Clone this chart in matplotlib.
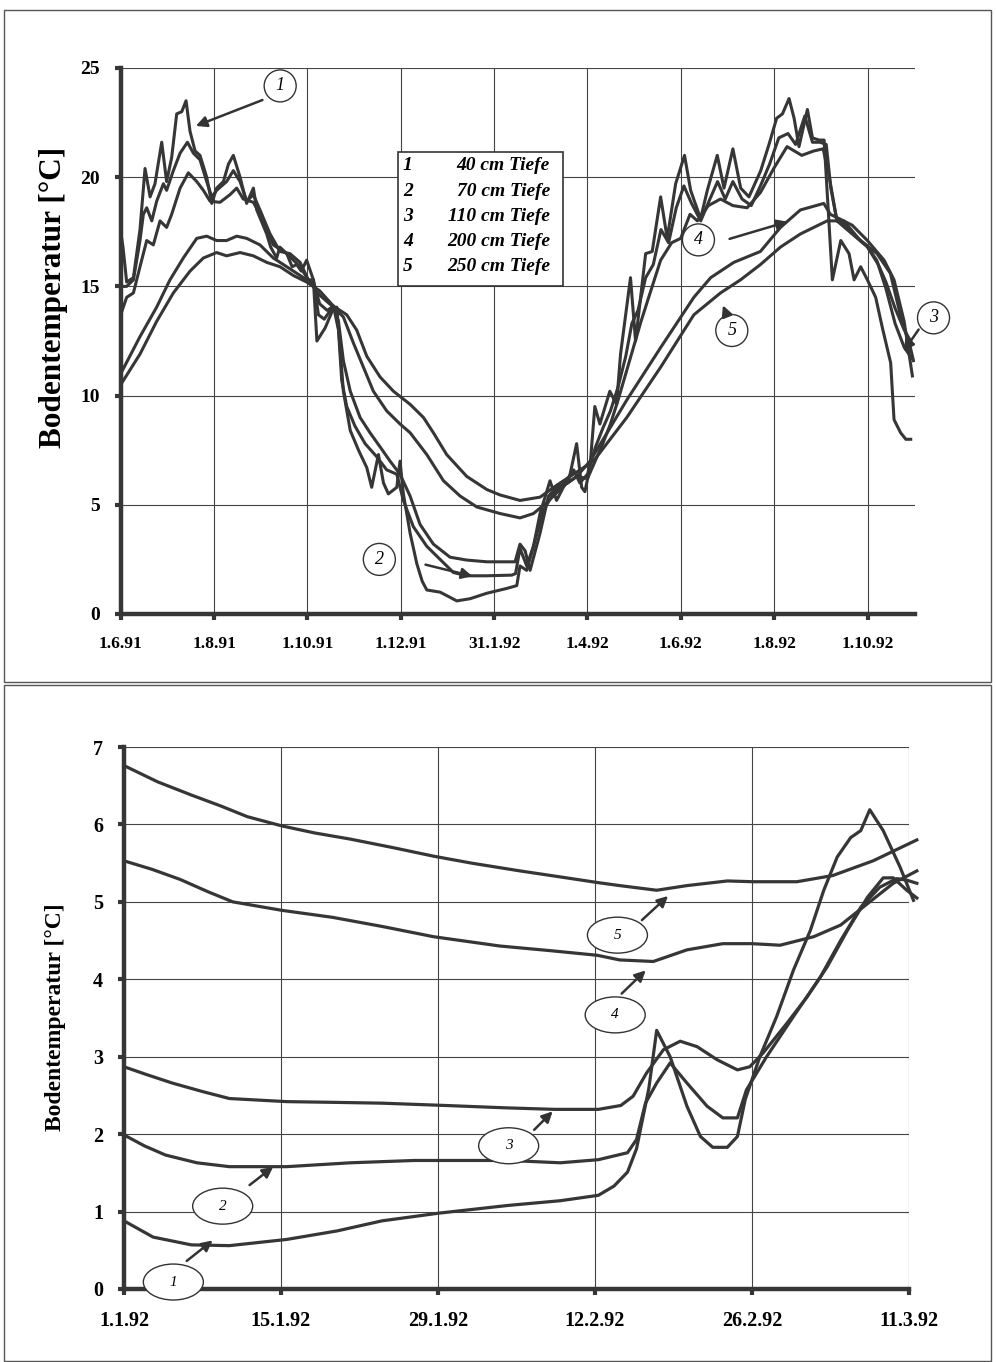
import datetime as dt
import matplotlib.pyplot as plt
from matplotlib.patches import Ellipse, Rectangle

plt.rcParams['font.family'] = ['Liberation Serif', 'DejaVu Serif']

# ---- oberes Diagramm: Tage ab 1.6.91 ----
top_start = dt.datetime(1991, 6, 1)
top_ticks = ['1.6.91', '1.8.91', '1.10.91', '1.12.91', '31.1.92', '1.4.92', '1.6.92', '1.8.92', '1.10.92']

s1_days = [0, 1.5, 3.9, 8.3, 12.6, 15.9, 19.2, 22.4, 26.8, 30.0, 33.3, 36.6, 39.9, 42.7, 45.3, 48.6, 51.8, 56.2,
           59.5, 62.7, 67.1, 70.4, 73.6, 78.0, 82.3, 86.7, 88.9, 95.4, 98, 101.9, 104, 108.5, 112, 115, 118, 121.5,
           125.9, 128.2, 133.6, 139, 141.2, 143.3, 145.5, 150, 155.4, 160.8, 164, 168.4, 171.7, 174.9, 180.4,
           182.5, 184.7, 189.1, 193.5, 197, 200, 208.7, 214.2, 219.6, 228.3, 239.2, 252.2, 258.8, 260.9, 265.3,
           269.7, 274, 280.5, 284.8, 289.2, 293, 297.9, 301.2, 303.3, 306.6, 309.8, 313.1, 319.6, 324, 326.6,
           333.1, 336.4, 343, 347.3, 352.8, 357.1, 362.6, 368.4, 372.4, 378.9, 383.3, 389.8, 394.2, 400, 405.1,
           410.5, 418.2, 423.6, 428.6, 432.4, 436.7, 440, 443.2, 448.7, 452, 456.3, 459.6, 465, 470.5, 475.9,
           479.2, 483.5, 487.9, 493.3, 497.7, 503.1, 505.3, 509.6, 513, 516.2]
s1_vals = [17.5, 16.8, 15.2, 15.4, 17.6, 20.4, 19.1, 19.7, 21.6, 19.8, 20.9, 22.9, 23.0, 23.5, 22.1, 21.2, 21.0, 20.0,
           18.8, 19.5, 19.8, 20.6, 21.0, 20.0, 18.8, 19.5, 18.5, 17.4, 16.8, 16.3, 16.8, 16.5, 15.9, 16.0, 15.7, 16.2,
           15.3, 12.5, 13.1, 14.0, 14.05, 12.2, 10.2, 8.4, 7.5, 6.7, 5.8, 7.3, 6.0, 5.5, 5.8,
           7.0, 5.5, 3.7, 2.3, 1.5, 1.1, 1.0, 0.8, 0.6, 0.7, 0.95, 1.17, 1.3, 2.2, 2.0,
           3.1, 4.6, 6.1, 5.2, 5.8, 6.2, 7.8, 5.8, 5.6, 6.7, 9.5, 8.7, 10.2, 9.6, 11.9,
           15.4, 12.5, 16.5, 16.6, 19.1, 17.2, 19.7, 21.0, 19.4, 18.1, 19.4, 21.0, 19.5, 21.3, 19.5,
           19.1, 20.3, 21.5, 22.7, 22.9, 23.6, 22.7, 21.4, 23.1, 21.8, 21.7, 21.7, 15.3, 17.1, 16.5,
           15.3, 15.9, 15.3, 14.5, 13.1, 11.5, 8.9, 8.3, 8.0, 8.0]

s2_days = [0, 3.9, 8.3, 12.6, 14.8, 17, 20.3, 23.5, 27.9, 30, 34.4, 38.8, 43.6, 47.5, 51.8, 56.2, 59.5, 62.7, 69.2,
           73.6, 78, 82.3, 86.7, 91, 97.6, 104.1, 110.6, 117.2, 122.6, 126, 129.2, 133, 139, 142.3, 144.4, 147.7,
           153.1, 159.7, 167.3, 173.8, 180.4, 184.7, 191.2, 200, 208.7, 217.4, 226.1, 239.2, 255.5, 258, 260.9,
           265.3, 269.7, 276.2, 282.7, 290, 296, 300, 305, 310, 315, 320, 325, 330, 334, 338, 343, 348, 353, 358,
           363, 368, 373, 379, 385, 390, 395, 400, 406, 412, 418, 424, 430, 436, 441, 447, 452, 457, 461, 464, 468,
           474, 480, 487, 494, 500, 506, 512, 517]
s2_vals = [15.0, 15.0, 15.3, 17.1, 18.3, 18.6, 18.0, 18.9, 19.7, 19.4, 20.3, 21.1, 21.6, 21.1, 20.8, 19.8, 19.1, 19.4, 19.8,
           20.3, 19.8, 18.9, 19.2, 18.5, 17.4, 16.6, 16.5, 16.1, 15.3, 15.3, 13.7, 13.5, 14.1, 13.0, 10.7, 9.5,
           8.6, 7.8, 7.2, 6.6, 6.4, 5.2, 4.0, 3.1, 2.5, 1.9, 1.75, 1.75, 1.78, 1.85, 3.0,
           2.2, 3.1, 4.75, 5.5, 6.0, 6.6, 6.0, 6.4, 7.6, 8.5, 9.3, 10.4, 11.8, 13.3, 13.9, 15.4, 16.0, 17.6, 17.0,
           18.6, 19.6, 18.8, 18.0, 19.0, 19.8, 19.0, 19.8, 19.0, 18.7, 19.6, 20.6, 21.8, 22.0, 21.5, 22.8, 21.6, 21.6,
           21.5, 19.5, 18.0, 17.8, 17.3, 16.9, 16.2, 14.9, 13.3, 12.2, 11.7]

s3_days = [0, 3.9, 8.3, 12.6, 17, 21.3, 25.7, 30, 33.3, 38.8, 44.2, 49.7, 54, 58.4, 64.9, 71.4, 75.8, 80.1, 86.7,
           93.2, 99.7, 108.5, 117.2, 122.6, 126, 130, 135, 139, 142.3, 145.5, 150, 156.4, 162.9, 169.5, 176, 182.5,
           189.1, 195.6, 204.3, 215.2, 226.1, 239.2, 257.7, 260.9, 264.2, 267.5, 274, 279.5, 285, 292, 298, 305, 310,
           315, 320, 325, 330, 335, 340, 345, 352.8, 360, 365.9, 372, 376.8, 384, 391.9, 400, 409.3, 418, 426.7,
           435.4, 445, 452.8, 459, 463, 468, 478, 488, 495, 500, 506, 512, 517]
s3_vals = [13.7, 14.5, 14.7, 15.9, 17.1, 16.9, 18.0, 17.7, 18.3, 19.5, 20.2, 19.8, 19.4, 18.9, 18.85, 19.2, 19.5, 19.0, 18.85,
           18.0, 16.9, 16.5, 15.9, 15.3, 15.2, 14.2, 13.9, 14.1, 13.4, 11.6, 10.2, 9.0, 8.3, 7.65, 7.0, 6.4,
           5.4, 4.1, 3.2, 2.6, 2.47, 2.39, 2.39, 3.2, 2.9, 2.0, 3.7, 5.4, 5.8, 6.0, 6.3, 6.2, 7.0,
           7.8, 8.7, 9.8, 11.0, 12.2, 13.4, 14.5, 16.2, 17.0, 17.2, 18.3, 18.0, 18.7, 19.0, 18.7, 18.6, 19.3, 20.4,
           21.4, 21.0, 21.2, 21.3, 20.0, 18.0, 17.4, 16.8, 16.0, 15.2, 14.0, 13.0, 12.4]

s4_days = [0, 12.6, 23.5, 32.2, 40.9, 49.7, 56.2, 62.7, 69.2, 75.8, 82.3, 91, 99.7, 108.5, 117.2, 123.7, 130, 139,
           145.5, 152.1, 158.6, 165.1, 173.8, 182.5, 189.1, 200, 210.9, 221.8, 232.7, 247.9, 260.9, 269.7, 278.4,
           290, 298, 306.7, 330.7, 352.8, 374.5, 385.5, 400.6, 418, 431.1, 444.1, 459.4, 463.7, 472.4, 483.3, 494.2,
           502.9, 509.4, 516, 518]
s4_vals = [11.0, 12.7, 14.05, 15.3, 16.3, 17.2, 17.3, 17.1, 17.1, 17.3, 17.2, 16.9, 16.3, 15.9, 15.5, 15.2, 14.6, 14.05,
           13.6, 12.4, 11.3, 10.2, 9.3, 8.7, 8.3, 7.3, 6.1, 5.4, 4.9, 4.6, 4.4, 4.6, 5.1,
           5.9, 6.3, 7.0, 9.8, 12.2, 14.5, 15.4, 16.1, 16.6, 17.7, 18.5, 18.8, 18.3, 18.0, 17.1, 16.5,
           15.6, 13.7, 12.2, 11.6]

s5_days = [0, 12.6, 23.5, 34.4, 45.3, 54, 62.7, 69.2, 78, 86.7, 95.4, 104.1, 112.8, 121.5, 130, 139, 147.7, 154.2,
           160.8, 169.5, 178.2, 189.1, 197.8, 204.3, 213, 226.1, 239.2, 247.9, 260.9, 274, 285, 298, 308.9, 330.7,
           352.8, 374.5, 391.9, 405, 418, 431.1, 444.1, 461.6, 472.4, 478, 487.9, 498.8, 505.3, 511.9, 517.3]
s5_vals = [10.5, 11.9, 13.4, 14.7, 15.7, 16.3, 16.55, 16.4, 16.55, 16.4, 16.1, 15.9, 15.5, 15.2, 14.8, 14.1, 13.7, 13.0,
           11.8, 10.85, 10.2, 9.6, 9.0, 8.3, 7.3, 6.3, 5.7, 5.45, 5.2, 5.35, 5.9, 6.5, 7.0, 9.0,
           11.3, 13.7, 14.7, 15.3, 16.0, 16.8, 17.4, 18.0, 18.0, 17.8, 17.1, 16.2, 15.3, 13.4, 10.9]

legend_nr = ['1', '2', '3', '4', '5']
legend_txt = ['40 cm Tiefe', '70 cm Tiefe', '110 cm Tiefe', '200 cm Tiefe', '250 cm Tiefe']

# ---- unteres Diagramm: Tage ab 1.1.92 ----
bot_start = dt.datetime(1992, 1, 1)
bot_ticks = ['1.1.92', '15.1.92', '29.1.92', '12.2.92', '26.2.92', '11.3.92']

b1_days = [0, 2.6, 6.0, 9.4, 14.5, 19, 23, 28.1, 34.3, 38.9, 42.3, 43.7, 44.9, 45.7, 46.8, 47.5, 48.7, 50.2, 51.4,
           52.5, 53.8, 54.7, 55.4, 56.7, 58.2, 59.7, 61.2, 62.4, 63.6, 64.8, 65.7, 66.5, 67.7, 69.2, 70.4]
b1_vals = [0.88, 0.67, 0.57, 0.56, 0.64, 0.75, 0.88, 0.98, 1.08, 1.14, 1.21, 1.33, 1.51, 1.81, 2.59, 3.34, 3.0, 2.36, 1.97,
           1.83, 1.83, 1.97, 2.45, 3.0, 3.52, 4.12, 4.63, 5.15, 5.58, 5.83, 5.92, 6.19, 5.92, 5.45, 5.02]

b2_days = [0, 1.8, 3.7, 6.5, 9.4, 14.5, 20.2, 25.9, 34.3, 38.9, 42.3, 44.9, 45.7, 46.5, 47.5, 48.7, 50.2, 52, 53.4,
           54.7, 55.5, 57.3, 59.7, 62.1, 63.9, 65.7, 67.4, 68.9, 69.8, 70.7]
b2_vals = [1.99, 1.85, 1.73, 1.63, 1.58, 1.58, 1.63, 1.66, 1.66, 1.63, 1.67, 1.76, 1.93, 2.4, 2.66, 2.92, 2.66, 2.36, 2.21,
           2.21, 2.57, 3.0, 3.52, 4.03, 4.5, 4.93, 5.19, 5.3, 5.28, 5.24]

b3_days = [0, 2, 4.3, 7, 9.4, 14.5, 19, 23, 28.7, 34, 38.4, 42.3, 44.3, 45.4, 46.6, 48.1, 49.6, 51.1, 52.9, 54.7,
           55.8, 57, 59.1, 60.9, 62.7, 64.5, 66.3, 67.7, 68.6, 69.8, 70.7]
b3_vals = [2.87, 2.77, 2.66, 2.55, 2.46, 2.42, 2.41, 2.40, 2.37, 2.34, 2.32, 2.32, 2.37, 2.49, 2.79, 3.09, 3.2, 3.13, 2.96, 2.83,
           2.87, 3.05, 3.43, 3.77, 4.16, 4.63, 5.06, 5.31, 5.31, 5.15, 5.05]

b4_days = [0, 2.5, 5, 7.5, 9.7, 14.1, 18.6, 23.1, 27.6, 33.5, 38, 42.2, 44.2, 47.2, 50.2, 53.4, 56, 58.5, 61.5, 63.9,
           66.5, 68.6, 70.7]
b4_vals = [5.53, 5.42, 5.29, 5.13, 5.0, 4.89, 4.8, 4.68, 4.55, 4.43, 4.37, 4.31, 4.25, 4.23, 4.38, 4.46, 4.46, 4.44, 4.55, 4.7,
           5.0, 5.24, 5.4]

b5_days = [0, 3, 6, 8.6, 11, 14.1, 17, 20.2, 24, 27.6, 31, 35.3, 39, 42.2, 44.2, 47.5, 50.2, 53.8, 56.1, 60, 63.2,
           66.8, 70.7]
b5_vals = [6.76, 6.55, 6.38, 6.24, 6.1, 5.98, 5.89, 5.81, 5.7, 5.59, 5.5, 5.4, 5.32, 5.25, 5.21, 5.15, 5.21, 5.27, 5.26, 5.26, 5.34,
           5.53, 5.8]

W, H = 996, 1362
ink = '#363636'
fig = plt.figure(figsize=(W / 100, H / 100), dpi=100)


def fx(x):
    return x / W


def fy(y):
    return 1 - y / H


def tick_pos(labels, start):
    return [(dt.datetime.strptime(s, '%d.%m.%y') - start).days for s in labels]


def style_axes(ax, lsize):
    ax.spines['top'].set_visible(False)
    ax.spines['right'].set_visible(False)
    for s in ['left', 'bottom']:
        ax.spines[s].set_linewidth(3.2)
        ax.spines[s].set_color(ink)
    ax.grid(True, color='#444444', lw=0.8)
    ax.set_axisbelow(True)
    ax.tick_params(axis='both', length=4, width=3, color=ink, labelsize=lsize)
    ax.tick_params(axis='y', pad=11)
    ax.tick_params(axis='x', pad=12)
    for lab in ax.get_xticklabels() + ax.get_yticklabels():
        lab.set_fontweight('bold')


def label(ax, cx, cy, w, h, txt, start, end, size):
    ax.add_patch(Ellipse((cx, cy), w, h, fc='white', ec='#333333', lw=1.0, zorder=6, clip_on=False))
    ax.text(cx, cy, txt, ha='center', va='center', fontsize=size, fontstyle='italic', zorder=7, clip_on=False)
    ax.annotate('', xy=end, xytext=start, annotation_clip=False, zorder=6,
                arrowprops=dict(arrowstyle='-|>', color='#333333', lw=1.8, mutation_scale=16))


# Rahmen der Seite
fig.add_artist(Rectangle((fx(4), fy(682)), fx(987), 672 / H, transform=fig.transFigure,
                         fill=False, ec='#555555', lw=1.0))
fig.add_artist(Rectangle((fx(4), fy(1361)), fx(987), 676 / H, transform=fig.transFigure,
                         fill=False, ec='#555555', lw=1.0))

# ---- oben ----
ax1 = fig.add_axes([fx(120.7), fy(614), fx(915 - 120.7), (614 - 68) / H])
for d, v in [(s1_days, s1_vals), (s2_days, s2_vals), (s3_days, s3_vals), (s4_days, s4_vals), (s5_days, s5_vals)]:
    ax1.plot(d, v, color=ink, lw=2.2, zorder=3)
ax1.set_xlim(0, 519)
ax1.set_ylim(0, 25)
ax1.set_xticks(tick_pos(top_ticks, top_start))
ax1.set_xticklabels(top_ticks)
ax1.set_yticks([0, 5, 10, 15, 20, 25])
style_axes(ax1, 14)
for lab in ax1.get_xticklabels():
    lab.set_fontsize(12.5)

cw, ch = 32 / 1.53, 32 / 21.88
label(ax1, 104.2, 24.18, cw, ch, '1', (94.3, 23.58), (47.4, 22.3), 13)
label(ax1, 169.0, 2.5, cw, ch, '2', (197.4, 2.29), (231.6, 1.7), 13)
label(ax1, 377.5, 17.13, cw, ch, '4', (396.1, 17.14), (437.5, 18.0), 13)
label(ax1, 399.3, 12.98, cw, ch, '5', (396.1, 13.67), (392.8, 14.25), 13)
label(ax1, 531.1, 13.56, cw, ch, '3', (522.4, 13.13), (510.5, 11.92), 13)

# Legende
fig.add_artist(Rectangle((fx(398), fy(286)), fx(165), 134 / H, transform=fig.transFigure,
                         fc='white', ec='#333333', lw=1.2, zorder=5))
for i in range(5):
    y = fy(166 + 25.2 * i)
    fig.text(fx(403), y, legend_nr[i], ha='left', va='center', fontsize=14,
             fontweight='bold', fontstyle='italic', zorder=6)
    fig.text(fx(550), y, legend_txt[i], ha='right', va='center', fontsize=14,
             fontweight='bold', fontstyle='italic', zorder=6)

fig.text(fx(54), fy(297), 'Bodentemperatur [°C]', rotation=90, ha='center', va='center',
         fontsize=22.5, fontweight='bold')

# ---- unten ----
ax2 = fig.add_axes([fx(124), fy(1289), fx(909 - 124), (1289 - 747) / H])
for d, v in [(b1_days, b1_vals), (b2_days, b2_vals), (b3_days, b3_vals), (b4_days, b4_vals), (b5_days, b5_vals)]:
    ax2.plot(d, v, color=ink, lw=2.3, zorder=3, clip_on=False)
ax2.set_xlim(0, 70)
ax2.set_ylim(0, 7)
ax2.set_xticks(tick_pos(bot_ticks, bot_start))
ax2.set_xticklabels(bot_ticks)
ax2.set_yticks(range(8))
style_axes(ax2, 14.5)

ew, eh = 60 / 11.21, 36 / 77.5
label(ax2, 44.0, 4.57, ew, eh, '5', (46.0, 4.74), (48.7, 5.1), 11)
label(ax2, 43.8, 3.54, ew, eh, '4', (44.2, 3.79), (46.7, 4.14), 11)
label(ax2, 34.3, 1.85, ew, eh, '3', (36.4, 2.03), (38.4, 2.32), 11)
label(ax2, 8.8, 1.07, ew, eh, '2', (11.0, 1.32), (13.5, 1.6), 11)
label(ax2, 4.4, 0.09, ew, eh, '1', (5.4, 0.34), (8.1, 0.65), 11)

fig.text(fx(55), fy(1017), 'Bodentemperatur [°C]', rotation=90, ha='center', va='center',
         fontsize=17, fontweight='bold')

plt.savefig('out.png', dpi=100, facecolor='white')
